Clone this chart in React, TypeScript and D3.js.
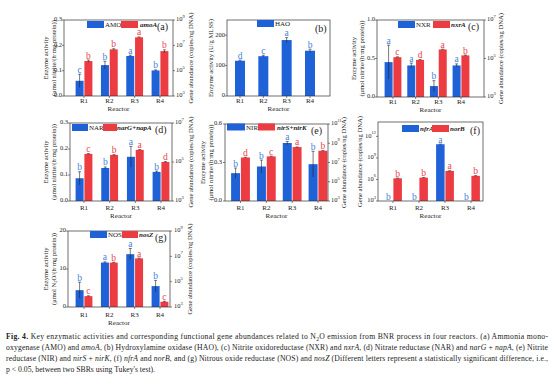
import React from "react";
import * as d3 from "d3";

const reactors = ["R1", "R2", "R3", "R4"];

// (a)
const amoActivity = [0.06, 0.122, 0.158, 0.101];
const amoSd = [0.026, 0.015, 0.003, 0.002];
const amoLetters = ["c", "b", "a", "b"];
const amoAAbundance = [5.75e5, 4.8e6, 4.3e7, 3.5e6];
const amoASd = [1.2e5, 6e5, 3e6, 9e5];
const amoALetters = ["b", "b", "a", "b"];
// (b)
const haoActivity = [116, 131, 184, 149];
const haoSd = [2, 3, 8, 5];
const haoLetters = ["d", "c", "a", "b"];
// (c)
const nxrActivity = [0.453, 0.41, 0.142, 0.41];
const nxrSd = [0.22, 0.03, 0.07, 0.02];
const nxrLetters = ["a", "a", "b", "a"];
const nxrAAbundance = [1.17e5, 8.5e4, 2.95e5, 1.45e5];
const nxrASd = [5e3, 3e3, 1e4, 6e3];
const nxrALetters = ["c", "d", "a", "b"];
// (d)
const narActivity = [0.0875, 0.127, 0.17, 0.112];
const narSd = [0.025, 0.004, 0.04, 0.003];
const narLetters = ["b", "b", "a", "b"];
const narGAbundance = [2.6e5, 2.3e5, 4.2e5, 1.0e5];
const narGSd = [1e4, 1e4, 1.5e4, 5e3];
const narGLetters = ["c", "b", "a", "d"];
// (e)
const nirActivity = [0.217, 0.269, 0.452, 0.287];
const nirSd = [0.04, 0.05, 0.012, 0.1];
const nirLetters = ["b", "b", "a", "b"];
const nirSAbundance = [3.3e7, 4.3e7, 4e8, 1.66e8];
const nirSSd = [2e6, 2e6, 1.5e7, 8e6];
const nirSLetters = ["d", "c", "a", "b"];
// (f)
const nfrAAbundance = [0, 0, 8e10, 0];
const nfrASd = [0, 0, 5e9, 0];
const nfrALetters = ["b", "b", "a", "b"];
const norBAbundance = [1.45e6, 1.8e6, 1.55e7, 3.2e6];
const norBSd = [1e5, 1e5, 1e6, 2e5];
const norBLetters = ["b", "b", "a", "b"];
// (g)
const nosActivity = [4.43, 11.7, 13.9, 5.5];
const nosSd = [2.1, 0.2, 1.5, 1.5];
const nosLetters = ["b", "a", "a", "b"];
const nosZAbundance = [7.2e3, 3.2e6, 6.9e6, 2.6e3];
const nosZSd = [500, 2e5, 4e5, 200];
const nosZLetters = ["c", "b", "a", "c"];

const BLUE = "#1f62d8";
const RED = "#ec3b41";
const BLUE_T = "#3f82db";
const RED_T = "#e8454b";
const SERIF = "'Liberation Serif', 'Times New Roman', serif";

type Axis = { log: boolean; domain: [number, number]; ticks: number[]; fmt?: (v: number) => string };
type Series = { values: number[]; sd: number[]; letters: string[]; color: string; tcolor: string; axis: "left" | "right" };
type LegendItem = { color: string; label: string; italic: boolean; rx: number; rw: number; tx: number };
type Cfg = {
  frame: [number, number, number, number];
  centers: [number, number];
  barW: number;
  left: Axis;
  leftLabelX: number;
  leftTitles: { text: React.ReactNode; x: number }[];
  right?: Axis;
  rightLabelX?: number;
  rightTitleX?: number;
  series: Series[];
  legend: LegendItem[];
  legendY: number;
  tag: { text: string; x: number; y: number };
  xLabelY: number;
  reactorY: number;
};

const GENE_TITLE = "Gene abundance (copies/ng DNA)";

function Pow({ e, x, y, anchor }: { e: number; x: number; y: number; anchor: string }) {
  return (
    <text x={x} y={y} fontSize={6.5} fontFamily={SERIF} textAnchor={anchor} dominantBaseline="middle" fill="#222">
      10<tspan dy={-3} fontSize={4.5}>{e}</tspan>
    </text>
  );
}

function Panel({ c }: { c: Cfg }) {
  const [x0, x1, y0, y1] = c.frame;
  const mk = (a: Axis) =>
    a.log ? d3.scaleLog().domain(a.domain).range([y1, y0]) : d3.scaleLinear().domain(a.domain).range([y1, y0]);
  const yl = mk(c.left);
  const yr = c.right ? mk(c.right) : null;
  const x = d3.scalePoint<string>().domain(reactors).range(c.centers);
  const n = c.series.length;
  const midY = (y0 + y1) / 2;
  return (
    <g>
      {c.series.map((s, si) => {
        const ys: any = s.axis === "left" ? yl : yr;
        const off = n === 1 ? -c.barW / 2 : si === 0 ? -c.barW - 0.4 : 0.4;
        return (
          <g key={si}>
            {s.values.map((v, i) => {
              const cx = (x(reactors[i]) as number) + off;
              const has = v > 0;
              const top = has ? ys(v) : y1;
              const etop = has ? ys(v + s.sd[i]) : y1;
              const ebot = has ? ys(Math.max(v - s.sd[i], ys.domain()[0] * 1.0001)) : y1;
              const ly = Math.min(top, etop) - 1.5;
              return (
                <g key={i}>
                  {has && <rect x={cx} y={top} width={c.barW} height={y1 - top} fill={s.color} />}
                  {has && s.sd[i] > 0 && (
                    <g stroke="#222" strokeWidth={0.6}>
                      <line x1={cx + c.barW / 2} x2={cx + c.barW / 2} y1={etop} y2={ebot} />
                      <line x1={cx + c.barW / 2 - 1.5} x2={cx + c.barW / 2 + 1.5} y1={etop} y2={etop} />
                    </g>
                  )}
                  <text x={cx + c.barW / 2} y={ly} fontSize={9.5} fontFamily={SERIF} textAnchor="middle" fill={s.tcolor}>
                    {s.letters[i]}
                  </text>
                </g>
              );
            })}
          </g>
        );
      })}
      <rect x={x0} y={y0} width={x1 - x0} height={y1 - y0} fill="none" stroke="#333" strokeWidth={0.7} />
      {c.left.ticks.map((t) => (
        <g key={"l" + t}>
          <line x1={x0 - 2} x2={x0} y1={yl(t)} y2={yl(t)} stroke="#333" strokeWidth={0.6} />
          {c.left.log ? (
            <Pow e={Math.round(Math.log10(t))} x={c.leftLabelX} y={yl(t)} anchor="end" />
          ) : (
            <text x={c.leftLabelX} y={yl(t)} fontSize={6.5} fontFamily={SERIF} textAnchor="end" dominantBaseline="middle" fill="#222">
              {c.left.fmt ? c.left.fmt(t) : t}
            </text>
          )}
        </g>
      ))}
      {c.right &&
        yr &&
        c.right.ticks.map((t) => (
          <g key={"r" + t}>
            <line x1={x1} x2={x1 + 2} y1={yr(t)} y2={yr(t)} stroke="#333" strokeWidth={0.6} />
            <Pow e={Math.round(Math.log10(t))} x={c.rightLabelX as number} y={yr(t)} anchor="start" />
          </g>
        ))}
      {reactors.map((r) => (
        <g key={r}>
          <line x1={x(r) as number} x2={x(r) as number} y1={y1} y2={y1 + 2} stroke="#333" strokeWidth={0.6} />
          <text x={x(r) as number} y={c.xLabelY} fontSize={7} fontFamily={SERIF} textAnchor="middle" fill="#222">
            {r}
          </text>
        </g>
      ))}
      <text x={(x0 + x1) / 2} y={c.reactorY} fontSize={7} fontFamily={SERIF} textAnchor="middle" fill="#222">
        Reactor
      </text>
      {c.leftTitles.map((t, i) => (
        <text key={i} transform={`translate(${t.x},${midY}) rotate(-90)`} fontSize={6.6} fontFamily={SERIF} textAnchor="middle" dominantBaseline="middle" fill="#222">
          {t.text}
        </text>
      ))}
      {c.rightTitleX !== undefined && (
        <text transform={`translate(${c.rightTitleX},${midY}) rotate(-90)`} fontSize={6.6} fontFamily={SERIF} textAnchor="middle" dominantBaseline="middle" fill="#222">
          {GENE_TITLE}
        </text>
      )}
      {c.legend.map((l, i) => (
        <g key={i}>
          <rect x={l.rx} y={c.legendY} width={l.rw} height={7} fill={l.color} />
          <text x={l.tx} y={c.legendY + 6} fontSize={7} fontFamily={SERIF} fontStyle={l.italic ? "italic" : "normal"} fontWeight={l.italic ? "bold" : "normal"} fill="#222">
            {l.label}
          </text>
        </g>
      ))}
      <text x={c.tag.x} y={c.tag.y} fontSize={10} fontFamily={SERIF} fill="#222">
        {c.tag.text}
      </text>
    </g>
  );
}

const f1 = (v: number) => v.toFixed(1);
const enz = "Enzyme activity";
const umolNitrite = "(\u03bcmol nitrite/(h\u00b7mg protein))";

const panels: Cfg[] = [
  {
    frame: [64, 173, 20, 96], centers: [84, 160], barW: 8,
    left: { log: false, domain: [0, 0.3], ticks: [0, 0.1, 0.2, 0.3], fmt: f1 }, leftLabelX: 62,
    leftTitles: [{ text: enz, x: 46 }, { text: umolNitrite, x: 54 }],
    right: { log: true, domain: [1e3, 1e9], ticks: [1e3, 1e5, 1e7, 1e9] }, rightLabelX: 176, rightTitleX: 191,
    series: [
      { values: amoActivity, sd: amoSd, letters: amoLetters, color: BLUE, tcolor: BLUE_T, axis: "left" },
      { values: amoAAbundance, sd: amoASd, letters: amoALetters, color: RED, tcolor: RED_T, axis: "right" },
    ],
    legend: [
      { color: BLUE, label: "AMO", italic: false, rx: 87, rw: 17, tx: 105 },
      { color: RED, label: "amoA", italic: true, rx: 121, rw: 17, tx: 140 },
    ],
    legendY: 21, tag: { text: "(a)", x: 157, y: 30 }, xLabelY: 103, reactorY: 111,
  },
  {
    frame: [227, 330, 20, 96], centers: [240, 310], barW: 10,
    left: { log: false, domain: [0, 250], ticks: [0, 100, 200] }, leftLabelX: 225,
    leftTitles: [{ text: "Enzyme activity (U/g MLSS)", x: 211 }],
    series: [{ values: haoActivity, sd: haoSd, letters: haoLetters, color: BLUE, tcolor: BLUE_T, axis: "left" }],
    legend: [{ color: BLUE, label: "HAO", italic: false, rx: 257, rw: 17, tx: 275 }],
    legendY: 20, tag: { text: "(b)", x: 315, y: 32 }, xLabelY: 103, reactorY: 111,
  },
  {
    frame: [377, 484, 20, 97], centers: [393, 461], barW: 8,
    left: { log: false, domain: [0, 1], ticks: [0, 0.5, 1], fmt: f1 }, leftLabelX: 375,
    leftTitles: [{ text: enz, x: 354 }, { text: umolNitrite, x: 362 }],
    right: { log: true, domain: [1e3, 1e7], ticks: [1e3, 1e5, 1e7] }, rightLabelX: 487, rightTitleX: 501,
    series: [
      { values: nxrActivity, sd: nxrSd, letters: nxrLetters, color: BLUE, tcolor: BLUE_T, axis: "left" },
      { values: nxrAAbundance, sd: nxrASd, letters: nxrALetters, color: RED, tcolor: RED_T, axis: "right" },
    ],
    legend: [
      { color: BLUE, label: "NXR", italic: false, rx: 398, rw: 17, tx: 416 },
      { color: RED, label: "nxrA", italic: true, rx: 433, rw: 17, tx: 451 },
    ],
    legendY: 21, tag: { text: "(c)", x: 468, y: 30 }, xLabelY: 104, reactorY: 112,
  },
  {
    frame: [70, 172, 123, 201], centers: [84, 161], barW: 8,
    left: { log: false, domain: [0, 0.3], ticks: [0, 0.1, 0.2, 0.3], fmt: f1 }, leftLabelX: 68,
    leftTitles: [{ text: enz, x: 46 }, { text: umolNitrite, x: 54 }],
    right: { log: true, domain: [1e3, 1e7], ticks: [1e3, 1e5, 1e7] }, rightLabelX: 175, rightTitleX: 191,
    series: [
      { values: narActivity, sd: narSd, letters: narLetters, color: BLUE, tcolor: BLUE_T, axis: "left" },
      { values: narGAbundance, sd: narGSd, letters: narGLetters, color: RED, tcolor: RED_T, axis: "right" },
    ],
    legend: [
      { color: BLUE, label: "NAR", italic: false, rx: 72, rw: 16, tx: 89 },
      { color: RED, label: "narG+napA", italic: true, rx: 103, rw: 14, tx: 117 },
    ],
    legendY: 124, tag: { text: "(d)", x: 155, y: 133 }, xLabelY: 210, reactorY: 218,
  },
  {
    frame: [225, 328, 124, 201], centers: [240.5, 318], barW: 9,
    left: { log: false, domain: [0, 0.6], ticks: [0, 0.3, 0.6], fmt: f1 }, leftLabelX: 222,
    leftTitles: [{ text: enz, x: 203 }, { text: umolNitrite, x: 211 }],
    right: { log: true, domain: [1e3, 1e11], ticks: [1e3, 1e5, 1e7, 1e9, 1e11] }, rightLabelX: 331, rightTitleX: 344,
    series: [
      { values: nirActivity, sd: nirSd, letters: nirLetters, color: BLUE, tcolor: BLUE_T, axis: "left" },
      { values: nirSAbundance, sd: nirSSd, letters: nirSLetters, color: RED, tcolor: RED_T, axis: "right" },
    ],
    legend: [
      { color: BLUE, label: "NIR", italic: false, rx: 227, rw: 18, tx: 246 },
      { color: RED, label: "nirS+nirK", italic: true, rx: 258, rw: 17, tx: 277 },
    ],
    legendY: 123.5, tag: { text: "(e)", x: 311, y: 134 }, xLabelY: 210, reactorY: 218,
  },
  {
    frame: [378, 483, 122, 201], centers: [393, 471], barW: 8.5,
    left: { log: true, domain: [1e3, 1e14], ticks: [1e3, 1e6, 1e9, 1e12] }, leftLabelX: 376,
    leftTitles: [{ text: GENE_TITLE, x: 360 }],
    series: [
      { values: nfrAAbundance, sd: nfrASd, letters: nfrALetters, color: BLUE, tcolor: BLUE_T, axis: "left" },
      { values: norBAbundance, sd: norBSd, letters: norBLetters, color: RED, tcolor: RED_T, axis: "left" },
    ],
    legend: [
      { color: BLUE, label: "nfrA", italic: true, rx: 402, rw: 17, tx: 420 },
      { color: RED, label: "norB", italic: true, rx: 432, rw: 17, tx: 450 },
    ],
    legendY: 125, tag: { text: "(f)", x: 470, y: 134 }, xLabelY: 210, reactorY: 218,
  },
  {
    frame: [68, 170, 231, 307], centers: [84, 160], barW: 8,
    left: { log: false, domain: [0, 20], ticks: [0, 10, 20] }, leftLabelX: 66,
    leftTitles: [
      { text: enz, x: 46 },
      { text: <>(μmol N<tspan fontSize={4.5} dy={1.5}>2</tspan><tspan dy={-1.5}>O/(h·mg protein))</tspan></>, x: 54 },
    ],
    right: { log: true, domain: [1e3, 1e9], ticks: [1e3, 1e5, 1e7, 1e9] }, rightLabelX: 174, rightTitleX: 190,
    series: [
      { values: nosActivity, sd: nosSd, letters: nosLetters, color: BLUE, tcolor: BLUE_T, axis: "left" },
      { values: nosZAbundance, sd: nosZSd, letters: nosZLetters, color: RED, tcolor: RED_T, axis: "right" },
    ],
    legend: [
      { color: BLUE, label: "NOS", italic: false, rx: 90, rw: 17, tx: 108 },
      { color: RED, label: "nosZ", italic: true, rx: 122, rw: 16, tx: 139 },
    ],
    legendY: 231, tag: { text: "(g)", x: 155, y: 241 }, xLabelY: 317, reactorY: 325,
  },
];

const I = ({ children }: { children: React.ReactNode }) => <tspan fontStyle="italic">{children}</tspan>;

const captionLines: React.ReactNode[] = [
  <>
    <tspan fontWeight="bold">Fig. 4.</tspan> Key enzymatic activities and corresponding functional gene abundances related to N
    <tspan fontSize={5.5} dy={1.5}>2</tspan>
    <tspan dy={-1.5}>O emission from BNR process in four reactors. (a) Ammonia mono-</tspan>
  </>,
  <>
    oxygenase (AMO) and <I>amoA</I>, (b) Hydroxylamine oxidase (HAO), (c) Nitrite oxidoreductase (NXR) and <I>nxrA</I>, (d) Nitrate reductase (NAR) and <I>narG</I> + <I>napA</I>, (e) Nitrite
  </>,
  <>
    reductase (NIR) and <I>nirS</I> + <I>nirK</I>, (f) <I>nfrA</I> and <I>norB</I>, and (g) Nitrous oxide reductase (NOS) and <I>nosZ</I> (Different letters represent a statistically significant difference, i.e.,
  </>,
  <>p {"<"} 0.05, between two SBRs using Tukey's test).</>,
];

export default function App() {
  return (
    <svg width={554} height={377} style={{ position: "absolute", left: 0, top: 0, background: "#fff" }}>
      <rect width={554} height={377} fill="#fff" />
      {panels.map((c, i) => (
        <Panel key={i} c={c} />
      ))}
      {captionLines.map((l, i) => (
        <text
          key={i}
          x={6}
          y={339 + i * 11}
          fontSize={7.7}
          fontFamily={SERIF}
          fill="#222"
          {...(i < 3 ? { textLength: 542, lengthAdjust: "spacing" } : {})}
        >
          {l}
        </text>
      ))}
    </svg>
  );
}
